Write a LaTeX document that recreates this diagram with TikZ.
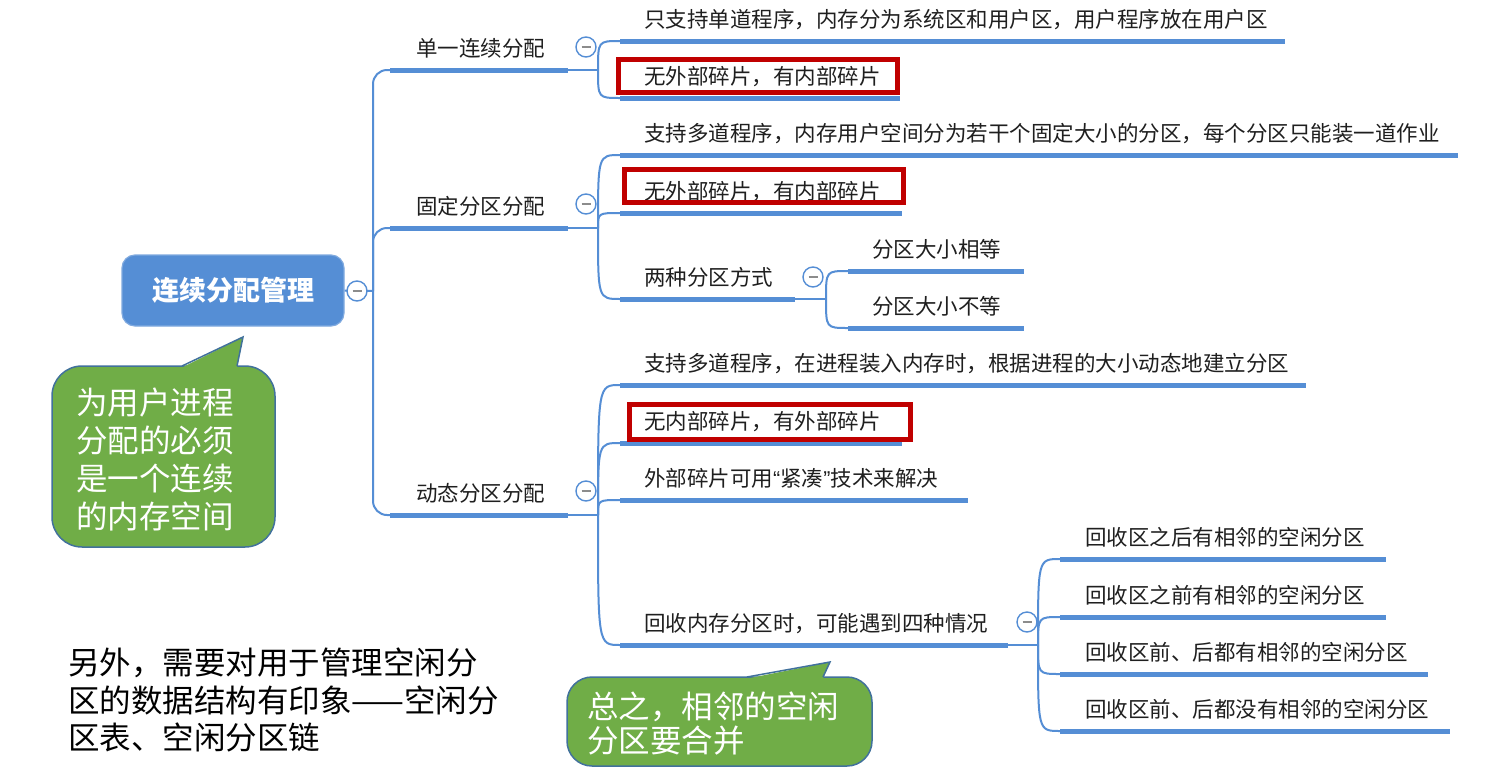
\documentclass[tikz,border=0pt]{standalone}
\usepackage{fontspec}
\setmainfont{Noto Sans CJK SC}
\newfontfamily\latinfont{Liberation Sans}
\definecolor{mmblue}{HTML}{558ED5}
\definecolor{mmred}{HTML}{C00000}
\definecolor{cgreen}{HTML}{70AD47}
\definecolor{cborder}{HTML}{41719C}
\tikzset{
  uline/.style={draw=mmblue, line width=5pt},
  conn/.style={draw=mmblue, line width=2pt},
  topic/.style={anchor=base west, inner sep=0pt, font=\fontsize{21.5}{26}\selectfont, text=black!88},
  collapse/.style={circle, draw=mmblue, line width=1.4pt, fill=white, minimum size=20pt, inner sep=0pt,
    path picture={\draw[draw=black!45, line width=1.8pt] ([xshift=-4.5pt]path picture bounding box.center) -- ([xshift=4.5pt]path picture bounding box.center);}},
  redbox/.style={draw=mmred, line width=5pt},
  curvy/.style={to path={.. controls (\tikztostart |- \tikztotarget) .. (\tikztotarget)}},
  calloutbox/.style={fill=cgreen, draw=cborder, line width=1.5pt},
  cotext/.style={text=white, align=left, inner sep=0pt, anchor=north west},
  rootbox/.style={rounded corners=13pt, fill=mmblue, draw=mmblue!75!white, line width=1.2pt,
    minimum width=222pt, minimum height=71pt, inner sep=0pt, text=white,
    font=\fontsize{27}{32}\selectfont\bfseries},
}
\begin{document}
\begin{tikzpicture}[x=1pt,y=-1pt]
\useasboundingbox (0,0) rectangle (1494,774);
\fill[white] (0,0) rectangle (1494,774);

% ---------- coordinates of underlines ----------
\coordinate (A-l) at (390,70);   \coordinate (A-r) at (568,70);   \coordinate (A-b) at (598,70);
\coordinate (A1-l) at (620,41);  \coordinate (A1-r) at (1285,41);
\coordinate (A2-l) at (620,98);  \coordinate (A2-r) at (900,98);
\coordinate (B-l) at (390,228);  \coordinate (B-r) at (568,228);  \coordinate (B-b) at (598,228);
\coordinate (B1-l) at (620,155); \coordinate (B1-r) at (1458,155);
\coordinate (B2-l) at (620,213); \coordinate (B2-r) at (902,213);
\coordinate (B3-l) at (620,299); \coordinate (B3-r) at (795,299); \coordinate (B3-b) at (826,299);
\coordinate (B31-l) at (848,271); \coordinate (B31-r) at (1024,271);
\coordinate (B32-l) at (848,328); \coordinate (B32-r) at (1024,328);
\coordinate (C-l) at (390,515);  \coordinate (C-r) at (568,515);  \coordinate (C-b) at (598,515);
\coordinate (C1-l) at (620,385); \coordinate (C1-r) at (1306,385);
\coordinate (C2-l) at (620,443); \coordinate (C2-r) at (902,443);
\coordinate (C3-l) at (620,500); \coordinate (C3-r) at (968,500);
\coordinate (C4-l) at (620,645); \coordinate (C4-r) at (1008,645); \coordinate (C4-b) at (1038,645);
\coordinate (C41-l) at (1060,559); \coordinate (C41-r) at (1386,559);
\coordinate (C42-l) at (1060,617); \coordinate (C42-r) at (1386,617);
\coordinate (C43-l) at (1060,674); \coordinate (C43-r) at (1428,674);
\coordinate (C44-l) at (1060,731); \coordinate (C44-r) at (1450,731);
\coordinate (trunk) at (373,291);

% ---------- root ----------
\node[rootbox] (root) at (233,290.5) {连续分配管理};

% ---------- connectors ----------
\draw[conn] (root.east) -- (trunk);
\draw[conn, rounded corners=14pt] (trunk) |- (A-l);
\draw[conn, rounded corners=14pt] (trunk) |- (B-l);
\draw[conn, rounded corners=14pt] (trunk) |- (C-l);
\draw[conn] (A-r) -- (A-b);
\draw[conn] (B-r) -- (B-b);
\draw[conn] (C-r) -- (C-b);
\draw[conn] (B3-r) -- (B3-b);
\draw[conn] (C4-r) -- (C4-b);
\foreach \c in {A1,A2}{\draw[conn] (A-b) to[curvy] (\c-l);}
\foreach \c in {B1,B2,B3}{\draw[conn] (B-b) to[curvy] (\c-l);}
\foreach \c in {B31,B32}{\draw[conn] (B3-b) to[curvy] (\c-l);}
\foreach \c in {C1,C2,C3,C4}{\draw[conn] (C-b) to[curvy] (\c-l);}
\foreach \c in {C41,C42,C43,C44}{\draw[conn] (C4-b) to[curvy] (\c-l);}

% ---------- underlines ----------
\foreach \c in {A,A1,A2,B,B1,B2,B3,B31,B32,C,C1,C2,C3,C4,C41,C42,C43,C44}{\draw[uline] (\c-l) -- (\c-r);}

% ---------- topic texts ----------
\node[topic] (A-t) at (416,56) {单一连续分配};
\node[topic] (A1-t) at (644,27) {只支持单道程序，内存分为系统区和用户区，用户程序放在用户区};
\node[topic] (A2-t) at (644,84) {无外部碎片，有内部碎片};
\node[topic] (B-t) at (416,214) {固定分区分配};
\node[topic] (B1-t) at (644,141) {支持多道程序，内存用户空间分为若干个固定大小的分区，每个分区只能装一道作业};
\node[topic] (B2-t) at (644,199) {无外部碎片，有内部碎片};
\node[topic] (B3-t) at (644,285) {两种分区方式};
\node[topic] (B31-t) at (872,257) {分区大小相等};
\node[topic] (B32-t) at (872,314) {分区大小不等};
\node[topic] (C-t) at (416,501) {动态分区分配};
\node[topic] (C1-t) at (644,371) {支持多道程序，在进程装入内存时，根据进程的大小动态地建立分区};
\node[topic] (C2-t) at (644,429) {无内部碎片，有外部碎片};
\node[topic] (C3-t) at (644,486) {外部碎片可用{\latinfont “}紧凑{\latinfont ”}技术来解决};
\node[topic] (C4-t) at (644,631) {回收内存分区时，可能遇到四种情况};
\node[topic] (C41-t) at (1085,545) {回收区之后有相邻的空闲分区};
\node[topic] (C42-t) at (1085,603) {回收区之前有相邻的空闲分区};
\node[topic] (C43-t) at (1085,660) {回收区前、后都有相邻的空闲分区};
\node[topic] (C44-t) at (1085,717) {回收区前、后都没有相邻的空闲分区};

% ---------- red highlight boxes ----------
\draw[redbox] (618.5,59.5) rectangle (897.5,92.5);
\draw[redbox] (624.5,169.5) rectangle (903.5,202.5);
\draw[redbox] (629.5,404.5) rectangle (910.5,439.5);

% ---------- collapse markers ----------
\node[collapse] (root-x) at (357,291) {};
\node[collapse] (A-x) at (586,47) {};
\node[collapse] (B-x) at (586,204) {};
\node[collapse] (B3-x) at (813,277) {};
\node[collapse] (C-x) at (586,491) {};
\node[collapse] (C4-x) at (1027,622) {};

% ---------- callout 1 ----------
\draw[calloutbox, rounded corners=30pt] (52,366) rectangle (275,547);
\fill[cgreen] (182,367.6) -- (243,337) -- (237,367.6) -- cycle;
\draw[draw=cborder, line width=1.5pt, line join=miter] (182,366) -- (243,337) -- (237,366);
\node[cotext, font=\fontsize{31.5}{38}\selectfont] (note1) at (76,388) {为用户进程\\分配的必须\\是一个连续\\的内存空间};

% ---------- callout 2 ----------
\draw[calloutbox, rounded corners=25pt] (567,677) rectangle (872,766);
\fill[cgreen] (747,678.6) -- (830,662) -- (823,678.6) -- cycle;
\draw[draw=cborder, line width=1.5pt, line join=miter] (747,677) -- (830,662) -- (823,677);
\node[cotext, font=\fontsize{31.5}{34}\selectfont] (note2) at (587,692) {总之，相邻的空闲\\分区要合并};

% ---------- free text ----------
\node[cotext, text=black, font=\fontsize{31.5}{37.5}\selectfont] (note3) at (68,648) {另外，需要对用于管理空闲分\\区的数据结构有印象——空闲分\\区表、空闲分区链};
\end{tikzpicture}
\end{document}
